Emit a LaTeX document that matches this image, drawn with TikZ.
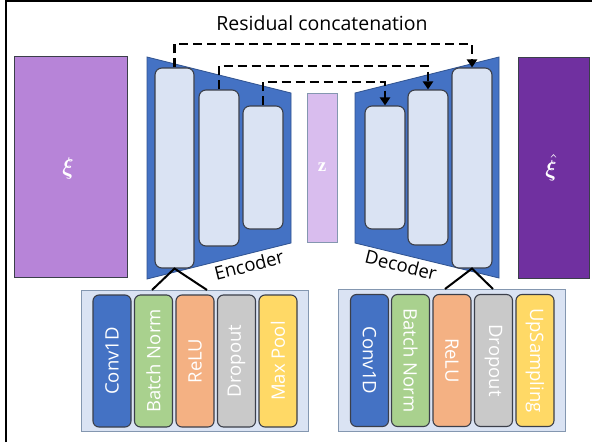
\documentclass[tikz,border=0pt]{standalone}
\usepackage{amsmath}
\usepackage{bm}
\usepackage{fontspec}
\setmainfont{Open Sans}
\newfontfamily\serifz{Liberation Serif}
\usetikzlibrary{arrows.meta}
\definecolor{xicol}{HTML}{B784D8}
\definecolor{xihatcol}{HTML}{7030A0}
\definecolor{zcol}{HTML}{D9BDEE}
\definecolor{trapcol}{HTML}{4472C4}
\definecolor{trapedge}{HTML}{2F528F}
\definecolor{innercol}{HTML}{DAE3F3}
\definecolor{boxedge}{HTML}{3B3F4A}
\definecolor{paneledge}{HTML}{8497B0}
\definecolor{bncol}{HTML}{A9D18E}
\definecolor{relucol}{HTML}{F4B183}
\definecolor{dropcol}{HTML}{C9C9C9}
\definecolor{poolcol}{HTML}{FFD966}
\tikzset{
  bigrect/.style={draw=boxedge, line width=0.8pt, inner sep=0pt, text=white},
  layerbox/.style={draw=boxedge, line width=1.1pt, fill=innercol, rounded corners=7pt, inner sep=0pt},
  panel/.style={draw=paneledge, line width=1pt, fill=innercol, inner sep=0pt},
  oplayer/.style={draw=boxedge, line width=1.1pt, rounded corners=6pt, inner sep=0pt,
     minimum width=38pt, minimum height=132pt, text=white, font=\fontsize{18.5}{20}\selectfont},
  skip/.style={draw=black, line width=2.6pt, dash pattern=on 9pt off 5pt, -{Triangle[length=8pt,width=10pt]}},
  stem/.style={draw=black, line width=2pt},
  lbl/.style={font=\fontsize{18.5}{20}\selectfont, inner sep=0pt}
}
\begin{document}
\begin{tikzpicture}[x=1pt,y=-1pt]
\useasboundingbox (0,0) rectangle (592,442);
\fill[white] (0,0) rectangle (592,442);
% frame
\draw[line width=2pt] (6,442) -- (6,0.8) -- (592,0.8);
% title
\node[font=\fontsize{19.5}{22}\selectfont, inner sep=0pt] (title) at (322,23) {Residual concatenation};
% input / output
\node[bigrect, fill=xicol, minimum width=113pt, minimum height=221pt] (xi) at (70.5,166.5) {};
\node[text=white, inner sep=0pt] (xisym) at (68,168) {\scalebox{2.1}[2.4]{$\bm{\xi}$}};
\node[bigrect, fill=xihatcol, minimum width=71pt, minimum height=221pt] (xihat) at (553.5,167.5) {};
\node[text=white, inner sep=0pt] (xihatsym) at (551,168) {\scalebox{2.1}[2.3]{$\hat{\bm{\xi}}$}};
\node[draw=paneledge, line width=0.8pt, fill=zcol, inner sep=0pt, minimum width=30pt, minimum height=149pt, text=white] (z) at (322,167.5) {\serifz\bfseries\fontsize{19}{19}\selectfont z};
% trapezoids
\draw[fill=trapcol, draw=trapedge, line width=0.8pt] (147,57) -- (291,93) -- (291,243) -- (147,279) -- cycle;
\draw[fill=trapcol, draw=trapedge, line width=0.8pt] (355,93) -- (499,57) -- (499,278) -- (355,243) -- cycle;
% encoder layers
\node[layerbox, minimum width=39pt, minimum height=200pt] (e1) at (174.5,168) {};
\node[layerbox, minimum width=40pt, minimum height=156pt] (e2) at (219,168) {};
\node[layerbox, minimum width=40pt, minimum height=123pt] (e3) at (263,167.5) {};
% decoder layers
\node[layerbox, minimum width=40pt, minimum height=123pt] (d1) at (385,167.5) {};
\node[layerbox, minimum width=40pt, minimum height=155pt] (d2) at (428,167.5) {};
\node[layerbox, minimum width=40pt, minimum height=200pt] (d3) at (472,168) {};
% labels
\node[lbl, rotate=14] (enclbl) at (249,265) {Encoder};
\node[lbl, rotate=-14] (declbl) at (401,265) {Decoder};
% skip connections
\draw[skip] (e1.north) -- (e1.north |- 0,44) -| (d3.north);
\draw[skip] (e2.north) -- (e2.north |- 0,66) -| (d2.north);
\draw[skip] (e3.north) -- (e3.north |- 0,82) -| (d1.north);
% panels
\node[panel, minimum width=227pt, minimum height=141pt] (encp) at (194.5,360.5) {};
\node[panel, minimum width=227pt, minimum height=142pt] (decp) at (451.5,360) {};
% stems
\coordinate (ea) at (152,290);
\coordinate (eb) at (207,290);
\coordinate (da) at (445,289);
\coordinate (db) at (493,289);
\draw[stem] (ea) -- (e1.south) -- (eb);
\draw[stem] (da) -- (d3.south) -- (db);
% encoder ops
\node[oplayer, fill=trapcol] (ec) at (112,361) {\rotatebox{90}{Conv1D}};
\node[oplayer, fill=bncol] (eb2) at (153.5,361) {\rotatebox{90}{Batch Norm}};
\node[oplayer, fill=relucol] (er) at (195,361) {\rotatebox{90}{ReLU}};
\node[oplayer, fill=dropcol] (ed) at (236.5,361) {\rotatebox{90}{Dropout}};
\node[oplayer, fill=poolcol] (em) at (278,361) {\rotatebox{90}{Max Pool}};
% decoder ops
\node[oplayer, fill=trapcol] (dc) at (369.5,360.5) {\rotatebox{-90}{Conv1D}};
\node[oplayer, fill=bncol] (db2) at (410.5,360.5) {\rotatebox{-90}{Batch Norm}};
\node[oplayer, fill=relucol] (dr) at (452,360.5) {\rotatebox{-90}{ReLU}};
\node[oplayer, fill=dropcol] (dd) at (493.5,360.5) {\rotatebox{-90}{Dropout}};
\node[oplayer, fill=poolcol] (du) at (535,360.5) {\rotatebox{-90}{UpSampling}};
\end{tikzpicture}
\end{document}
